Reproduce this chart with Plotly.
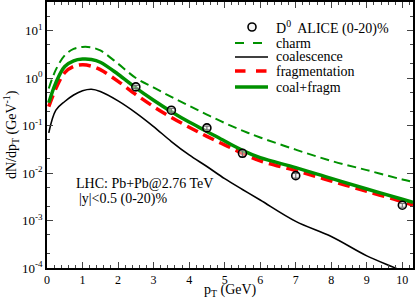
import plotly.graph_objects as go

# ---- data ----
pt = [0.05, 0.25, 0.5, 0.75, 1.0, 1.25, 1.5, 2.0, 2.5, 3.0, 3.5, 4.0, 4.5,
      5.0, 5.5, 6.0, 7.0, 8.0, 9.0, 10.0, 10.3]
charm = [0.6, 1.5, 3.0, 4.1, 4.5, 4.4, 3.8, 2.0, 1.0, 0.63, 0.40, 0.26, 0.17,
         0.113, 0.078, 0.056, 0.031, 0.018, 0.0115, 0.0073, 0.0065]
coalescence = [0.07, 0.21, 0.32, 0.44, 0.54, 0.58, 0.52, 0.33, 0.185, 0.095,
               0.046, 0.024, 0.0137, 0.0076, 0.0045, 0.0027, 0.00096,
               0.00046, 0.00018, 0.000085, 0.00006]
fragmentation = [0.25, 0.6, 1.3, 1.75, 1.9, 1.78, 1.5, 0.85, 0.45, 0.25, 0.148,
                 0.092, 0.059, 0.039, 0.026, 0.018, 0.0112, 0.0068, 0.0041,
                 0.0025, 0.0021]
coal_fragm = [0.3, 0.8, 1.75, 2.3, 2.5, 2.45, 2.15, 1.2, 0.62, 0.34, 0.195,
              0.118, 0.075, 0.047, 0.030, 0.021, 0.013, 0.0077, 0.0046,
              0.0028, 0.0024]
alice_pt = [2.5, 3.5, 4.5, 5.5, 7.0, 10.0]
alice_val = [0.65, 0.21, 0.089, 0.026, 0.0088, 0.0021]
alice_err = [0.05, 0.02, 0.008, 0.004, 0.001, 0.0002]

y_tickvals = [1e-4, 1e-3, 1e-2, 1e-1, 1, 10]
y_ticktext = ["10<sup>-4</sup>", "10<sup>-3</sup>", "10<sup>-2</sup>",
              "10<sup>-1</sup>", "10<sup>0</sup>", "10<sup>1</sup>"]

GREEN = "rgb(0,145,0)"
RED = "rgb(255,0,0)"
FONT = "Liberation Serif"

fig = go.Figure()
fig.add_trace(go.Scatter(x=pt, y=charm, mode="lines", line=dict(color=GREEN, width=2, dash="9px,5px", shape="spline")))
fig.add_trace(go.Scatter(x=pt, y=coalescence, mode="lines", line=dict(color="black", width=1.6, shape="spline")))
fig.add_trace(go.Scatter(x=pt, y=fragmentation, mode="lines", line=dict(color=RED, width=3.5, dash="12px,6px", shape="spline")))
fig.add_trace(go.Scatter(x=pt, y=coal_fragm, mode="lines", line=dict(color=GREEN, width=3.5, shape="spline")))
fig.add_trace(go.Scatter(x=alice_pt, y=alice_val, mode="markers",
                         error_y=dict(type="data", array=alice_err, color="black", thickness=1.2, width=3),
                         marker=dict(symbol="circle", size=8, color="rgba(235,235,235,0.5)",
                                     line=dict(color="black", width=1.6))))

# plot area in pixels: x 47..413, y 2..268
def px(xpix):
    return (xpix - 47) / 366.0

def py(ypix):
    return (268 - ypix) / 266.0

shapes = []
annotations = []
rows = [
    ("D<sup>0</sup>  ALICE (0-20)%", 27, None),
    ("charm", 43, dict(color=GREEN, width=2, dash="dash")),
    ("coalescence", 57, dict(color="black", width=1.6)),
    ("fragmentation", 71, dict(color=RED, width=3.5, dash="dash")),
    ("coal+fragm", 87, dict(color=GREEN, width=3.5)),
]
for label, ypix, ln in rows:
    if ln is None:
        shapes.append(dict(type="circle", xref="paper", yref="paper", xsizemode="pixel", ysizemode="pixel",
                           xanchor=px(252), yanchor=py(ypix), x0=-4, x1=4, y0=-4, y1=4,
                           line=dict(color="black", width=1.6), fillcolor="rgba(235,235,235,0.5)"))
    else:
        shapes.append(dict(type="line", xref="paper", yref="paper", x0=px(235), x1=px(268),
                           y0=py(ypix), y1=py(ypix), line=ln))
    annotations.append(dict(text=label, xref="paper", yref="paper", x=px(274), y=py(ypix),
                            xanchor="left", yanchor="middle", showarrow=False,
                            font=dict(family=FONT, size=14, color="black")))

annotations.append(dict(text="LHC: Pb+Pb@2.76 TeV", xref="paper", yref="paper", x=px(74), y=py(183),
                        xanchor="left", yanchor="middle", showarrow=False,
                        font=dict(family=FONT, size=14, color="black")))
annotations.append(dict(text="|y|<0.5 (0-20)%", xref="paper", yref="paper", x=px(77), y=py(199),
                        xanchor="left", yanchor="middle", showarrow=False,
                        font=dict(family=FONT, size=14, color="black")))
annotations.append(dict(text="p<sub>T</sub> (GeV)", xref="paper", yref="paper", x=px(230), y=py(290),
                        xanchor="center", yanchor="middle", showarrow=False,
                        font=dict(family=FONT, size=14, color="black")))
annotations.append(dict(text="dN/dp<sub>T</sub> (GeV<sup>-1</sup>)", xref="paper", yref="paper", x=px(11), y=py(135),
                        xanchor="center", yanchor="middle", showarrow=False, textangle=-90,
                        font=dict(family=FONT, size=14, color="black")))

fig.update_layout(
    width=415, height=300,
    margin=dict(l=47, r=2, t=2, b=32, autoexpand=False),
    paper_bgcolor="white", plot_bgcolor="white",
    showlegend=False,
    shapes=shapes, annotations=annotations,
    font=dict(family=FONT, size=13, color="black"),
)
fig.update_xaxes(range=[0, 10.3], dtick=1, tick0=0, ticks="inside", ticklen=6, tickwidth=1,
                 showline=True, linecolor="black", linewidth=1.5, mirror="ticks",
                 showgrid=False, zeroline=False, automargin=False,
                 minor=dict(dtick=0.2, ticks="inside", ticklen=3, tickwidth=1, showgrid=False),
                 tickfont=dict(family=FONT, size=12))
fig.update_yaxes(type="log", range=[-4, 1.6], tickmode="array", tickvals=y_tickvals, ticktext=y_ticktext,
                 ticks="inside", ticklen=6, tickwidth=1,
                 showline=True, linecolor="black", linewidth=1.5, mirror="ticks",
                 showgrid=False, zeroline=False, automargin=False,
                 minor=dict(ticks="inside", ticklen=3, tickwidth=1, showgrid=False),
                 tickfont=dict(family=FONT, size=13))

fig.write_html("out.html", config={"displayModeBar": False},
               post_script="document.body.style.margin='0px';document.body.style.overflow='hidden';")
